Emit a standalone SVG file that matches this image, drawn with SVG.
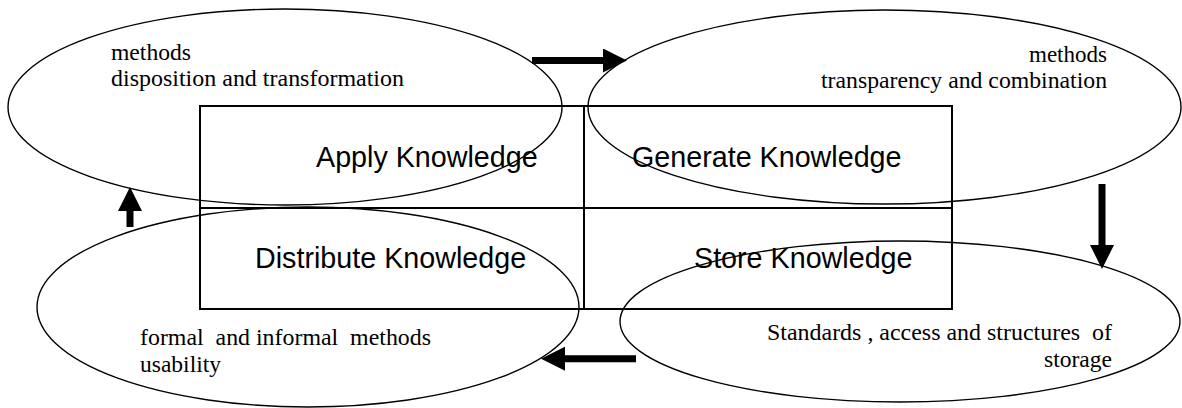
<svg xmlns="http://www.w3.org/2000/svg" width="1182" height="408" viewBox="0 0 1182 408">
  <style>
    .cell { fill: none; stroke: #000; stroke-width: 2; }
    .ring { fill: none; stroke: #000; stroke-width: 1.4; }
    .label { font-family: "Liberation Sans", Arial, sans-serif; font-size: 28.7px; fill: #000; }
    .note { font-family: "Liberation Serif", "Times New Roman", serif; font-size: 23px; fill: #000; }
    .flow { stroke: #000; stroke-width: 7; fill: none; }
  </style>
  <defs>
    <marker id="head" markerUnits="userSpaceOnUse" markerWidth="24" markerHeight="24" refX="0" refY="12" orient="auto" viewBox="0 0 24 24">
      <path d="M0,0 L24,12 L0,24 Z" fill="#000"/>
    </marker>
  </defs>

  <rect width="1182" height="408" fill="#fff"/>

  <!-- four quadrants of the knowledge cycle -->
  <g id="apply">
    <rect class="cell" x="200" y="106" width="384" height="102"/>
    <text class="label" x="316" y="167">Apply Knowledge</text>
  </g>
  <g id="generate">
    <rect class="cell" x="584" y="106" width="368" height="102"/>
    <text class="label" x="632" y="167">Generate Knowledge</text>
  </g>
  <g id="distribute">
    <rect class="cell" x="200" y="208" width="384" height="101"/>
    <text class="label" x="255" y="268">Distribute Knowledge</text>
  </g>
  <g id="store">
    <rect class="cell" x="584" y="208" width="368" height="101"/>
    <text class="label" x="694" y="268">Store Knowledge</text>
  </g>

  <!-- method ellipses around each quadrant -->
  <g id="apply-methods">
    <ellipse class="ring" cx="285" cy="107" rx="277" ry="98"/>
    <text class="note" x="111" y="60" textLength="80" lengthAdjust="spacingAndGlyphs">methods</text>
    <text class="note" x="111" y="86" textLength="293" lengthAdjust="spacingAndGlyphs">disposition and transformation</text>
  </g>
  <g id="generate-methods">
    <ellipse class="ring" cx="884.5" cy="107" rx="296.5" ry="97"/>
    <text class="note" x="1029" y="62" textLength="78" lengthAdjust="spacingAndGlyphs">methods</text>
    <text class="note" x="821" y="88" textLength="286" lengthAdjust="spacingAndGlyphs">transparency and combination</text>
  </g>
  <g id="distribute-methods">
    <ellipse class="ring" cx="308" cy="307" rx="271" ry="100"/>
    <text class="note" x="140" y="345" xml:space="preserve" textLength="291" lengthAdjust="spacingAndGlyphs">formal  and informal  methods</text>
    <text class="note" x="140" y="372" textLength="81" lengthAdjust="spacingAndGlyphs">usability</text>
  </g>
  <g id="store-methods">
    <ellipse class="ring" cx="900" cy="321.5" rx="280" ry="80.5"/>
    <text class="note" x="767" y="340" xml:space="preserve" textLength="345" lengthAdjust="spacingAndGlyphs">Standards , access and structures  of</text>
    <text class="note" x="1044" y="367" textLength="68" lengthAdjust="spacingAndGlyphs">storage</text>
  </g>

  <!-- cycle arrows -->
  <g id="connectors">
    <line class="flow" x1="532" y1="60.5" x2="603" y2="60.5" marker-end="url(#head)"/>
    <line class="flow" x1="1102" y1="184" x2="1102" y2="245" marker-end="url(#head)"/>
    <line class="flow" x1="636" y1="358.7" x2="565" y2="358.7" marker-end="url(#head)"/>
    <line class="flow" x1="130" y1="227" x2="130" y2="211" marker-end="url(#head)"/>
  </g>
</svg>
